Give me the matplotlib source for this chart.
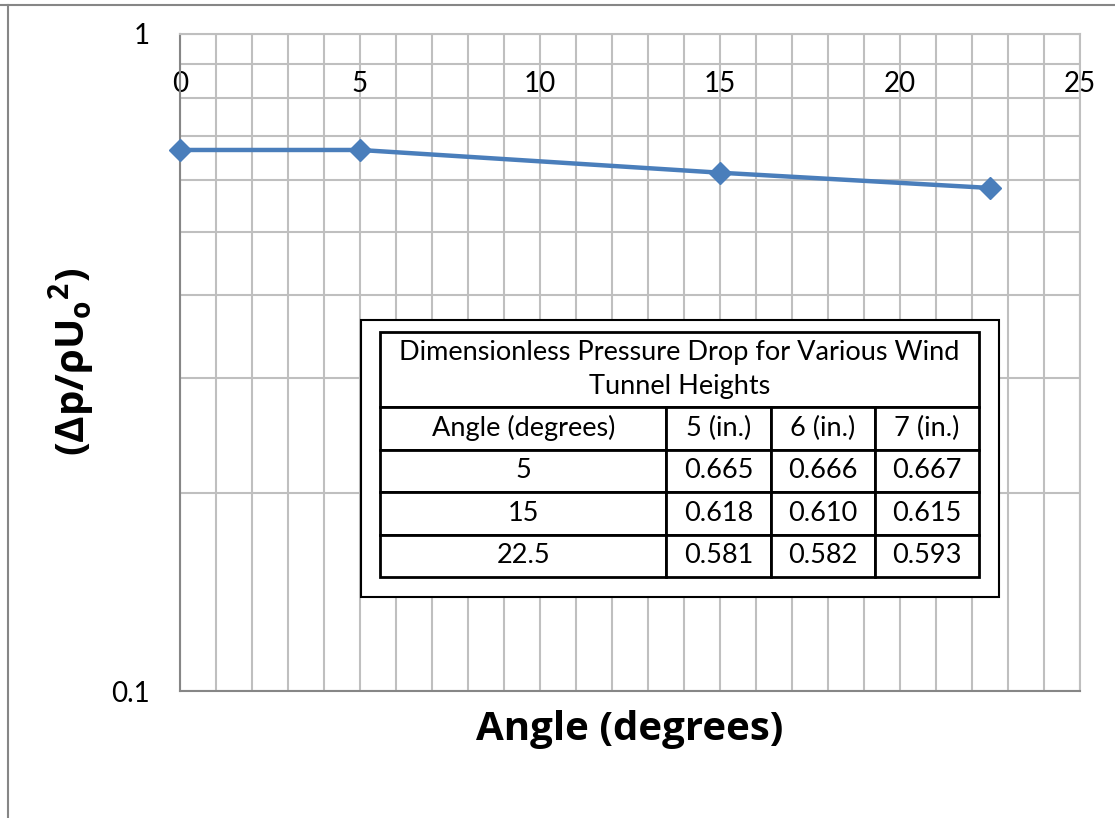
import numpy as np
import matplotlib.pyplot as plt
from matplotlib.lines import Line2D
from matplotlib.patches import Rectangle

angles = [0, 5, 15, 22.5]
dp_ratio = [0.666, 0.666, 0.615, 0.583]

table_title = "Dimensionless Pressure Drop for Various Wind\nTunnel Heights"
table_header = ["Angle (degrees)", "5 (in.)", "6 (in.)", "7 (in.)"]
table_rows = [
    ["5", "0.665", "0.666", "0.667"],
    ["15", "0.618", "0.610", "0.615"],
    ["22.5", "0.581", "0.582", "0.593"],
]

x_ticks = [0, 5, 10, 15, 20, 25]
y_ticks = [0.1, 1]
y_tick_labels = ["0.1", "1"]

W, H = 1115, 818
plt.rcParams["font.family"] = ["Lato", "Open Sans", "DejaVu Sans"]
plt.rcParams["mathtext.fontset"] = "custom"
plt.rcParams["mathtext.rm"] = "Open Sans"
plt.rcParams["mathtext.bf"] = "Open Sans:bold"

fig = plt.figure(figsize=(W / 100, H / 100), dpi=100)

# plot area in pixels
left, right, top, bottom = 180, 1080, 34, 691
ax = fig.add_axes([left / W, 1 - bottom / H, (right - left) / W, (bottom - top) / H])

grid_c = "#bfbfbf"
axis_c = "#868686"
blue = "#4a7ebb"

ax.plot(angles, dp_ratio, color=blue, lw=3.2, marker="D", ms=11, zorder=3, clip_on=False)

ax.set_yscale("log")
ax.set_ylim(0.1, 1)
ax.set_xlim(0, 25)

ax.set_xticks(x_ticks)
ax.set_xticks(np.arange(0, 26, 1), minor=True)
ax.set_yticks(y_ticks)
ax.set_yticklabels(y_tick_labels)
ax.set_yticks([0.2, 0.3, 0.4, 0.5, 0.6, 0.7, 0.8, 0.9], minor=True)
ax.yaxis.set_minor_formatter(plt.NullFormatter())

ax.grid(True, which="both", color=grid_c, lw=1.5)
ax.set_axisbelow(True)
ax.tick_params(which="both", length=0)
ax.tick_params(axis="x", labeltop=True, labelbottom=False, top=False, bottom=False,
               pad=-45, labelsize=20)
ax.tick_params(axis="y", pad=22, labelsize=20)

for s in ["left", "bottom"]:
    ax.spines[s].set_color(axis_c)
    ax.spines[s].set_linewidth(1.5)
for s in ["top", "right"]:
    ax.spines[s].set_color(grid_c)
    ax.spines[s].set_linewidth(1.5)

ax.set_xlabel("Angle (degrees)", fontsize=29, fontweight="bold",
              family=["Open Sans", "DejaVu Sans"], labelpad=10)
fig.text(72 / W, 1 - 362 / H,
         r"(Δp/ρU$_{\mathbf{o}}$$^{\mathbf{2}}$)", rotation=90, ha="center", va="center",
         fontsize=29, fontweight="bold", family=["Open Sans", "DejaVu Sans"])

# outer box of the text box
fig.patches.append(Rectangle((361 / W, 1 - 597 / H), (999 - 361) / W, (597 - 320) / H,
                             transform=fig.transFigure, facecolor="white",
                             edgecolor="black", lw=1.5, zorder=5))

# table
tl, tr, tt, tb = 380, 979, 332, 577
tax = fig.add_axes([tl / W, 1 - tb / H, (tr - tl) / W, (tb - tt) / H], zorder=6)
tax.axis("off")
th = tb - tt
title_h = 75 / th

t1 = tax.table(cellText=[[table_title]], cellLoc="center",
               bbox=[0, 1 - title_h, 1, title_h])
body = tax.table(cellText=[table_header] + table_rows, cellLoc="center",
                 colWidths=[286, 104, 104, 104], bbox=[0, 0, 1, 1 - title_h])
for t in (t1, body):
    t.auto_set_font_size(False)
    t.set_fontsize(19.5)
    for cell in t.get_celld().values():
        cell.set_linewidth(2)
        cell.set_edgecolor("black")
        cell.set_facecolor("white")
t1[0, 0].get_text().set_linespacing(1.45)

# chart border pieces visible in the crop
fig.add_artist(Line2D([0, 1], [1 - 5 / H, 1 - 5 / H], transform=fig.transFigure,
                      color=axis_c, lw=1.5))
fig.add_artist(Line2D([8 / W, 8 / W], [0, 1 - 5 / H], transform=fig.transFigure,
                      color=axis_c, lw=1.5))

fig.savefig("out.png", dpi=100, facecolor="white")
